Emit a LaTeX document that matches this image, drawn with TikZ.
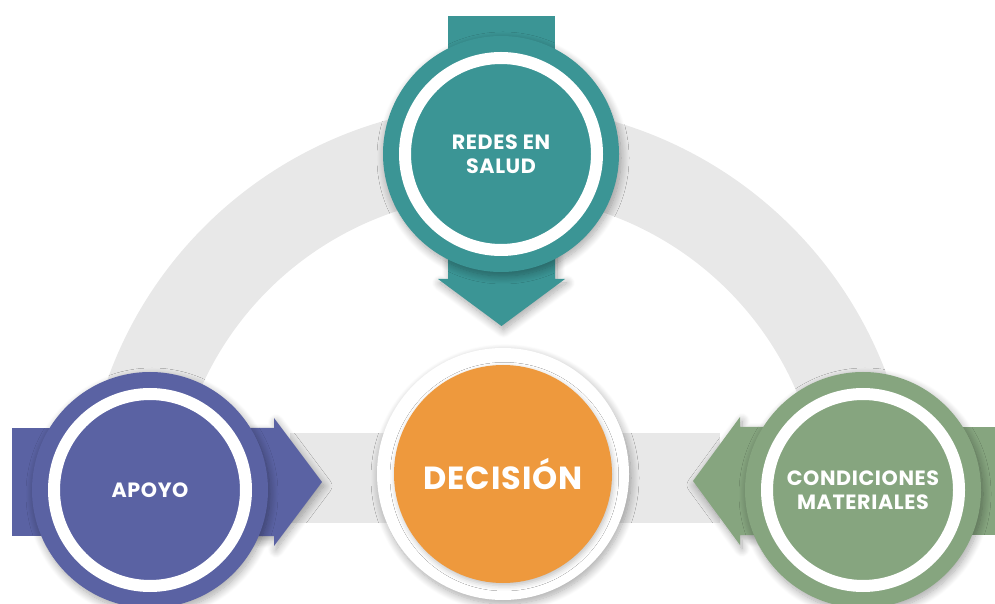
\documentclass[tikz,border=0pt]{standalone}
\usepackage{fontspec}
\setmainfont{Poppins}[LetterSpace=3]
\usetikzlibrary{shadows.blur}

\definecolor{redescol}{HTML}{3B9595}
\definecolor{apoyocol}{HTML}{5A62A3}
\definecolor{condcol}{HTML}{86A57F}
\definecolor{decicol}{HTML}{EE993D}
\definecolor{bandcol}{HTML}{E8E8E8}

\begin{document}
\begin{tikzpicture}[x=0.75pt,y=0.75pt,
    disc/.style={circle,minimum size=177pt,inner sep=0pt,text=white,align=center,
                 font=\fontsize{15.5}{18}\selectfont\bfseries},
    soft/.style={blur shadow={shadow xshift=1.5pt,shadow yshift=-3pt,
                 shadow blur radius=6pt,shadow blur steps=12,shadow opacity=35}}]
    \useasboundingbox (0,0) rectangle (995,603);

    % grey track: the arch and the straight part
    \draw[bandcol,line width=67.5pt] (498,83) ++(165:370) arc (165:15:370);
    \fill[bandcol] (290,80) rectangle (720,170);

    % arrow shafts (flat), then the heads with a shadow
    \fill[apoyocol] (12,67) rectangle (260,175);
    \fill[condcol] (750,68) rectangle (995,176);
    \fill[redescol] (448,587) rectangle (555,340);
    \fill[apoyocol,soft] (250,67) -- (274,67) -- (274,57) -- (322,121) -- (274,185)
        -- (274,175) -- (250,175) -- cycle;
    \fill[condcol,soft] (765,68) -- (740,68) -- (740,58) -- (693,122) -- (740,186)
        -- (740,176) -- (765,176) -- cycle;
    \fill[redescol,soft] (448,350) -- (555,350) -- (555,324) -- (565,324) -- (501.5,277)
        -- (438,324) -- (448,324) -- cycle;

    % outer circles
    \node[disc,fill=redescol,soft] (redes) at (501,449) {REDES EN\\SALUD};
    \node[disc,fill=apoyocol,soft] (apoyo) at (150,113) {APOYO};
    \node[disc,fill=condcol,soft] (cond) at (863,113) {CONDICIONES\\MATERIALES};
    \foreach \n in {redes,apoyo,cond}
        \draw[white,line width=9pt] (\n.center) circle (96);

    % centre
    \node[circle,fill=white,minimum size=189pt,soft] (ring) at (503,129) {};
    \node[circle,fill=decicol,minimum size=163.5pt,inner sep=0pt,text=white,
          font=\fontsize{24}{29}\selectfont\bfseries,
          blur shadow={shadow xshift=1pt,shadow yshift=-2pt,shadow blur radius=4pt,shadow opacity=25}]
        (decision) at (ring.center) {DECISIÓN};
\end{tikzpicture}
\end{document}
